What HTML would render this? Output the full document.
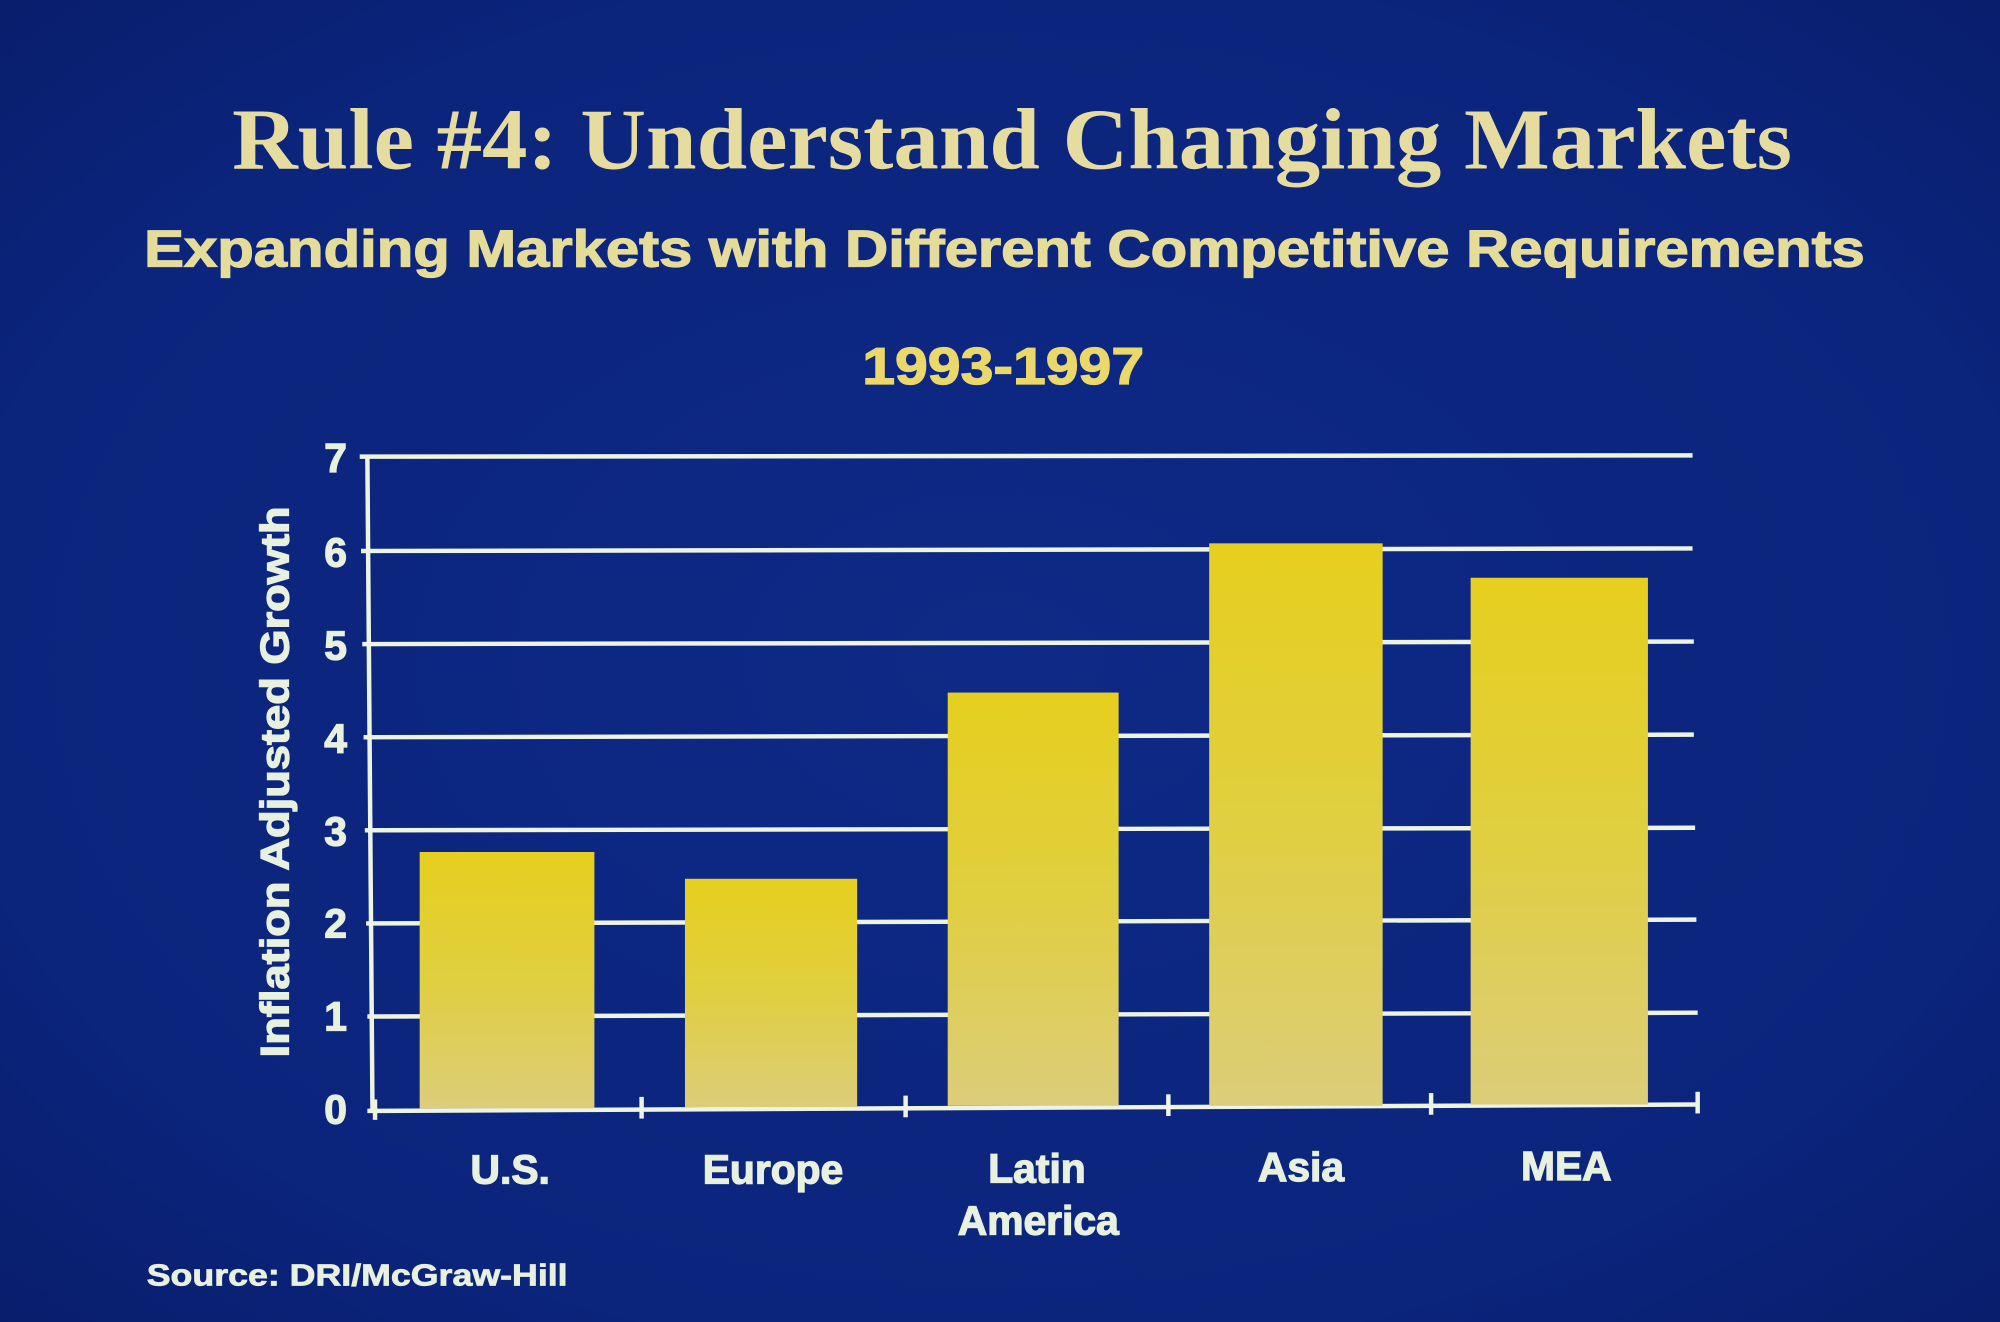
<!DOCTYPE html>
<html><head><meta charset="utf-8"><style>
html,body{margin:0;padding:0;background:#0a2278;}
svg{display:block}
</style></head><body>
<svg width="2000" height="1322" viewBox="0 0 1568 1036.5" xmlns="http://www.w3.org/2000/svg">
<defs>
<radialGradient id="bg" cx="50%" cy="50%" r="75%">
<stop offset="0" stop-color="#0e2a86"/>
<stop offset="0.7" stop-color="#0b247c"/>
<stop offset="1" stop-color="#081c68"/>
</radialGradient>
<linearGradient id="bar" x1="0" y1="0" x2="0" y2="1">
<stop offset="0" stop-color="#e6cf1e"/>
<stop offset="0.5" stop-color="#e0cf40"/>
<stop offset="1" stop-color="#dccd7a"/>
</linearGradient>
</defs>
<rect width="1568" height="1036.5" fill="url(#bg)"/>
<g font-family="Liberation Serif, serif" font-weight="bold" fill="#e6dca0">
<text x="182" y="132" font-size="68" textLength="1223" lengthAdjust="spacingAndGlyphs">Rule #4:  Understand Changing Markets</text>
</g>
<g font-family="Liberation Sans, sans-serif" font-weight="bold" stroke-width="1">
<text x="113" y="209" font-size="41" fill="#e6dc9a" stroke="#e6dc9a" textLength="1349" lengthAdjust="spacingAndGlyphs">Expanding Markets with Different Competitive Requirements</text>
<text x="676" y="301" font-size="41" fill="#ead86a" stroke="#ead86a" textLength="221" lengthAdjust="spacingAndGlyphs">1993-1997</text>
</g>
<g stroke="#eef4e4" stroke-width="3.5" fill="none">
<line x1="282" y1="358" x2="1327" y2="357"/>
<line x1="283" y1="432" x2="1327" y2="430"/>
<line x1="284" y1="505" x2="1328" y2="503"/>
<line x1="285" y1="578" x2="1328" y2="576"/>
<line x1="286" y1="651" x2="1329" y2="649"/>
<line x1="287" y1="724" x2="1330" y2="721"/>
<line x1="288" y1="797" x2="1331" y2="794"/>
<line x1="288" y1="358" x2="292" y2="872"/>
<line x1="288" y1="871" x2="1332" y2="866"/>
<line x1="294" y1="862" x2="294" y2="878"/>
<line x1="503" y1="860" x2="503" y2="877"/>
<line x1="710" y1="859" x2="710" y2="876"/>
<line x1="916" y1="858" x2="916" y2="875"/>
<line x1="1122" y1="857" x2="1122" y2="874"/>
<line x1="1331" y1="856" x2="1331" y2="873"/>
</g>
<g fill="url(#bar)">
<rect x="329" y="668" width="137" height="201"/>
<rect x="537" y="689" width="135" height="179"/>
<rect x="743" y="543" width="134" height="324"/>
<rect x="948" y="426" width="136" height="441"/>
<rect x="1153" y="453" width="139" height="413"/>
</g>
<g font-family="Liberation Sans, sans-serif" font-weight="bold" fill="#e8f0e0" stroke="#e8f0e0" stroke-width="1" font-size="32">
<g text-anchor="end">
<text x="272" y="370">7</text>
<text x="272" y="444">6</text>
<text x="272" y="517">5</text>
<text x="272" y="590">4</text>
<text x="272" y="663">3</text>
<text x="272" y="735">2</text>
<text x="272" y="808">1</text>
<text x="272" y="881">0</text>
</g>
<text transform="translate(226,613) rotate(-90)" text-anchor="middle" font-size="31" textLength="432" lengthAdjust="spacingAndGlyphs">Inflation Adjusted Growth</text>
<g text-anchor="middle">
<text x="400" y="928">U.S.</text>
<text x="606" y="928">Europe</text>
<text x="813" y="927">Latin</text>
<text x="814" y="968">America</text>
<text x="1020" y="926">Asia</text>
<text x="1228" y="925">MEA</text>
</g>
<text x="115" y="1008" font-size="24" stroke-width="0.6" textLength="330" lengthAdjust="spacingAndGlyphs">Source:  DRI/McGraw-Hill</text>
</g>
</svg>
</body></html>
